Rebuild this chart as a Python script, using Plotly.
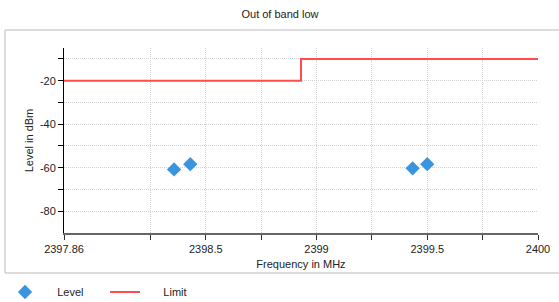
import plotly.graph_objects as go

# Data
level_freq = [2398.357, 2398.43, 2399.434, 2399.5]
level_dbm = [-60.8, -58.4, -60.3, -58.4]
limit_freq = [2397.86, 2398.93, 2398.93, 2400.0]
limit_dbm = [-20, -20, -10, -10]

x_tickvals = [2397.86, 2398.25, 2398.5, 2398.75, 2399, 2399.25, 2399.5, 2399.75, 2400]
x_ticktext = ["2397.86", "", "2398.5", "", "2399", "", "2399.5", "", "2400"]
y_tickvals = [-80, -70, -60, -50, -40, -30, -20, -10]
y_ticktext = ["-80", "", "-60", "", "-40", "", "-20", ""]

W, H = 559, 302
L, R, T, B = 64, 21, 48, 69
pw, ph = W - L - R, H - T - B

def px_x(p):
    return (p - L) / pw

def px_y(p):
    return (H - B - p) / ph

NB = "\u00a0"

fig = go.Figure()
fig.add_trace(go.Scatter(
    x=level_freq, y=level_dbm, mode="markers", name=NB * 4 + "Level",
    marker=dict(symbol="diamond", size=11, color="#3a95de"),
))
fig.add_trace(go.Scatter(
    x=limit_freq, y=limit_dbm, mode="lines", name=NB * 6 + "Limit",
    line=dict(color="#ff4d4d", width=2),
))

fig.add_shape(type="rect", xref="paper", yref="paper",
              x0=px_x(5), x1=px_x(562), y0=px_y(273), y1=px_y(30),
              line=dict(color="#bbbbbb", width=1), layer="below")

fig.update_layout(
    width=W, height=H,
    margin=dict(l=L, r=R, t=T, b=B, autoexpand=False),
    paper_bgcolor="white", plot_bgcolor="white",
    font=dict(family="Liberation Sans, Arial, sans-serif", size=11, color="#222"),
    title=dict(text="Out of band low", x=(280) / W, xanchor="center",
               y=1 - 14 / H, yanchor="middle", yref="container",
               font=dict(size=11, color="#222")),
    showlegend=True,
    legend=dict(orientation="h", x=px_x(5), xanchor="left",
                y=px_y(292), yanchor="middle",
                entrywidth=55, entrywidthmode="pixels",
                font=dict(size=11), bgcolor="rgba(0,0,0,0)"),
    xaxis=dict(range=[2397.86, 2400.0], tickvals=x_tickvals, ticktext=x_ticktext,
               showgrid=True, gridcolor="#d2d2d2", griddash="1px,1px", gridwidth=1,
               showline=True, linecolor="#666666", linewidth=2,
               ticks="outside", ticklen=5, tickcolor="#333", tickwidth=1,
               zeroline=False, automargin=False,
               tickfont=dict(size=11),
               title=dict(text="Frequency in MHz", standoff=6, font=dict(size=11))),
    yaxis=dict(range=[-90, -5], tickvals=y_tickvals, ticktext=y_ticktext,
               showgrid=True, gridcolor="#d2d2d2", griddash="1px,1px", gridwidth=1,
               showline=True, linecolor="#000000", linewidth=1,
               ticks="outside", ticklen=5, tickcolor="#000", tickwidth=1,
               zeroline=False, automargin=False,
               tickfont=dict(size=11),
               title=dict(text="Level in dBm", standoff=4, font=dict(size=11))),
)

fig.write_html("out.html", config={"displayModeBar": False},
               post_script="document.body.style.margin='0';")
